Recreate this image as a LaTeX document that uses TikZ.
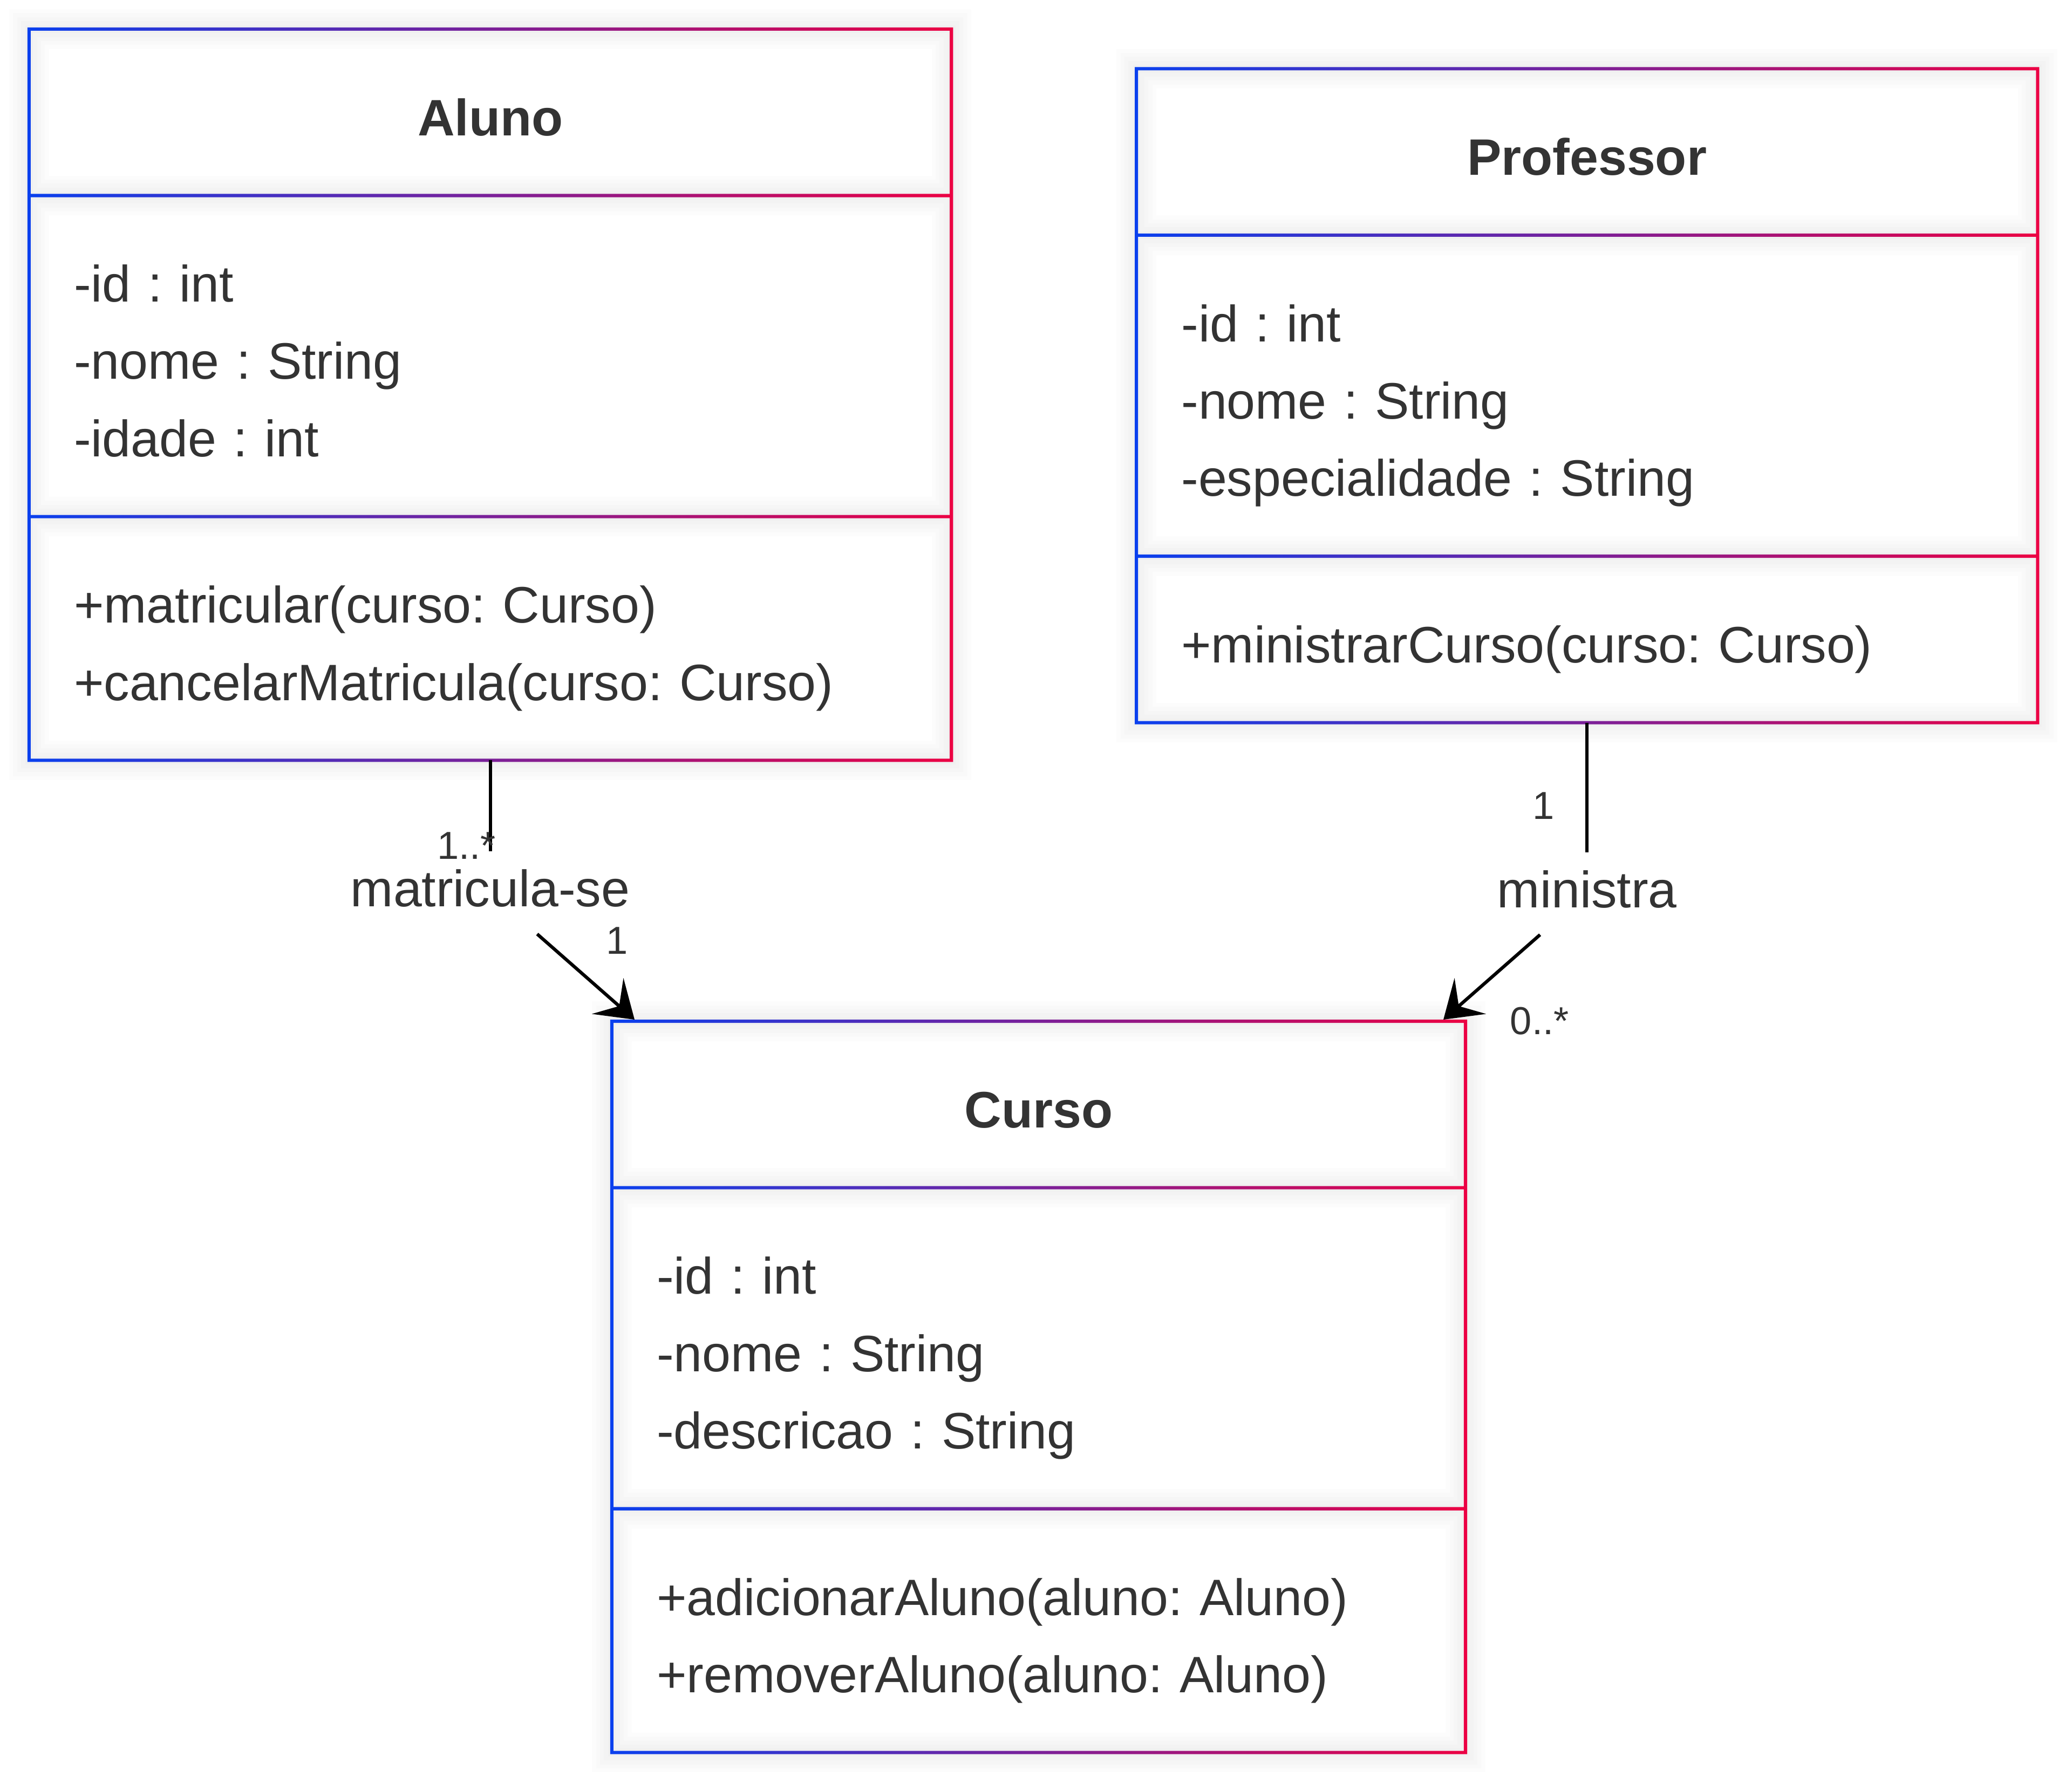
\documentclass[tikz,border=0pt]{standalone}
\usepackage{fontspec}
\setmainfont{Liberation Sans}
\usepackage{tikz}
\usetikzlibrary{arrows.meta,positioning,shapes.multipart}
\definecolor{umlblue}{HTML}{0A40EE}
\definecolor{umlred}{HTML}{EC0043}
\definecolor{umltext}{HTML}{333333}
\newcommand{\umlstrut}{\rule[-11.7pt]{0pt}{58.5pt}}

\begin{document}
\frenchspacing
\begin{tikzpicture}[x=1pt,y=-1pt,>={Stealth[length=27pt,width=36pt,inset=11.5pt]},
                    line width=2.5pt,text=umltext]
  \tikzstyle{umlclass}=[rectangle split,rectangle split parts=3,fill=white,
                        inner xsep=34pt,inner ysep=32.5pt,outer sep=0pt,align=left,
                        anchor=north west,font=\fontsize{38.8}{58.5}\selectfont]
  \tikzstyle{assoc}=[fill=white,inner sep=0pt,minimum height=60pt,text depth=7pt,
                     font=\fontsize{38.8}{46}\selectfont]
  \tikzstyle{mult}=[inner sep=0pt,font=\fontsize{29.5}{35}\selectfont]
  \tikzstyle{border}=[left color=umlblue,right color=umlred,even odd rule]
  \tikzstyle{glow}=[draw=black,opacity=0.012]

  \useasboundingbox (0,0) rectangle (1568,1350);

  \node[umlclass,text width=630pt] (aluno) at (22,22)
    {\centerline{\bfseries\umlstrut Aluno}
     \nodepart{two}\umlstrut-id : int\\\umlstrut-nome : String\\\umlstrut-idade : int
     \nodepart{three}\umlstrut+matricular(curso: Curso)\\\umlstrut+cancelarMatricula(curso: Curso)};
  \node[umlclass,text width=614pt] (professor) at (860,52)
    {\centerline{\bfseries\umlstrut Professor}
     \nodepart{two}\umlstrut-id : int\\\umlstrut-nome : String\\\umlstrut-especialidade : String
     \nodepart{three}\umlstrut+ministrarCurso(curso: Curso)};
  \node[umlclass,text width=578pt] (curso) at (463,773)
    {\centerline{\bfseries\umlstrut Curso}
     \nodepart{two}\umlstrut-id : int\\\umlstrut-nome : String\\\umlstrut-descricao : String
     \nodepart{three}\umlstrut+adicionarAluno(aluno: Aluno)\\\umlstrut+removerAluno(aluno: Aluno)};

  % soft shadow along the frames, then the gradient frames and dividers
  \foreach \c in {aluno,professor,curso}{
    \foreach \w in {6,12,18,24,30}
      \path[glow,line width=\w pt] (\c.north west) rectangle (\c.south east)
        (\c.text split west) -- (\c.text split east)
        (\c.two split west) -- (\c.two split east);
    \shade[border]
      ([shift={(-1.25pt,1.25pt)}]\c.north west) rectangle ([shift={(1.25pt,-1.25pt)}]\c.south east)
      ([shift={(1.25pt,-1.25pt)}]\c.north west) rectangle ([shift={(-1.25pt,1.25pt)}]\c.text split east)
      ([shift={(1.25pt,-1.25pt)}]\c.text split west) rectangle ([shift={(-1.25pt,1.25pt)}]\c.two split east)
      ([shift={(1.25pt,-1.25pt)}]\c.two split west) rectangle ([shift={(-1.25pt,1.25pt)}]\c.south east);
  }

  \node[assoc,below=69pt of aluno] (matricula) {matricula-se};
  \node[assoc,below=98pt of professor] (ministra) {ministra};

  \draw (aluno.south) -- (matricula);
  \draw[->] (matricula) -- ([shift={(17.2pt,1.25pt)}]curso.north west);
  \draw (professor.south) -- (ministra);
  \draw[->] (ministra) -- ([shift={(-16.7pt,1.25pt)}]curso.north east);

  \node[mult] (multAluno) at (353,640) {1..*};
  \node[mult] (multCursoA) at (467,712) {1};
  \node[mult] (multProf) at (1168,610) {1};
  \node[mult] (multCursoP) at (1165,773) {0..*};
\end{tikzpicture}
\end{document}
